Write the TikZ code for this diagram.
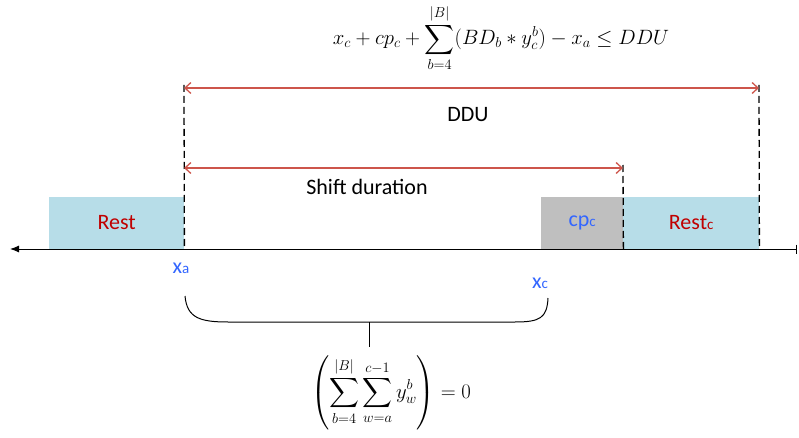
\documentclass[tikz,border=0pt]{standalone}
\usepackage{amsmath}
\usepackage{fontspec}
\setmainfont{Carlito}
\usetikzlibrary{arrows.meta}
\definecolor{restblue}{RGB}{183,221,232}
\definecolor{cpgrey}{RGB}{191,191,191}
\definecolor{darkred}{RGB}{192,0,0}
\definecolor{labelblue}{RGB}{51,102,255}
\definecolor{arrowred}{RGB}{205,85,75}
\begin{document}
\begin{tikzpicture}[x=1pt,y=-1pt,
  txt/.style={font=\fontsize{22}{26}\selectfont, inner sep=0pt},
  mathtxt/.style={font=\fontsize{22}{26}\selectfont, inner sep=0pt},
  boxstyle/.style={draw=none, inner sep=0pt, minimum height=52pt, anchor=south west, font=\fontsize{22}{26}\selectfont},
  restbox/.style={boxstyle, fill=restblue, text=darkred},
  cpbox/.style={boxstyle, fill=cpgrey, text=labelblue},
  dashline/.style={draw=black, line width=1.3pt, dash pattern=on 7pt off 4pt},
  redarrow/.style={draw=arrowred, line width=1.3pt, {Straight Barb[length=6pt,width=11pt]}-{Straight Barb[length=6pt,width=11pt]}},
  axisline/.style={draw=black, line width=1pt, {Latex[length=9pt,width=7pt]}-{Bar[width=9pt]}},
  bracestyle/.style={draw=black, line width=1pt},
  poslabel/.style={text=labelblue, font=\fontsize{22}{26}\selectfont, inner sep=0pt}
]
\useasboundingbox (0,0) rectangle (799,438);

% boxes
\node[restbox, minimum width=135pt] (rest) at (49,249) {Rest};
\node[cpbox, minimum width=82pt] (cp) at (541,249) {cp{\fontsize{15}{15}\selectfont c}};
\node[restbox, minimum width=136pt] (restc) at (623,249) {Rest{\fontsize{15}{15}\selectfont c}};

% axis
\coordinate (axl) at (10,249);
\coordinate (axr) at (797,249);
\draw[axisline] (axl) -- (axr);

% dashed verticals
\coordinate (ta) at (184,85);
\coordinate (tcp) at (623,165);
\coordinate (tc) at (759,85);
\draw[dashline] (ta) -- (rest.south east);
\draw[dashline] (tcp) -- (cp.south east);
\draw[dashline] (tc) -- (restc.south east);

% red arrows
\coordinate (ddl) at (184,88);
\coordinate (ddr) at (759,88);
\coordinate (sdl) at (184,168);
\coordinate (sdr) at (623,168);
\draw[redarrow] (ddl) -- (ddr);
\draw[redarrow] (sdl) -- (sdr);

% texts
\node[txt] (ddu) at (468,115) {DDU};
\node[txt] (shift) at (367,187) {Shift duration};
\node[poslabel] (xa) at (181,268) {x{\fontsize{15}{15}\selectfont a}};
\node[poslabel] (xc) at (540,283) {x{\fontsize{15}{15}\selectfont c}};

% equations
\node[mathtxt] (eqtop) at (501,38) {$\displaystyle x_c+cp_c+\sum_{b=4}^{|B|}(BD_b*y_c^b)-x_a\le DDU$};
\node[mathtxt] (eqbot) at (391,393) {$\displaystyle \left(\sum_{b=4}^{|B|}\sum_{w=a}^{c-1}y_w^b\right)=0$};

% brace
\coordinate (bl) at (185,296);
\coordinate (br) at (548,298);
\coordinate (bm) at (369,322);
\coordinate (bs) at (369,347);
\draw[bracestyle] (bl) .. controls (187,318) and (200,322) .. (228,322) -- (515,322) .. controls (540,322) and (547,318) .. (br);
\draw[bracestyle] (bm) -- (bs);
\end{tikzpicture}
\end{document}
